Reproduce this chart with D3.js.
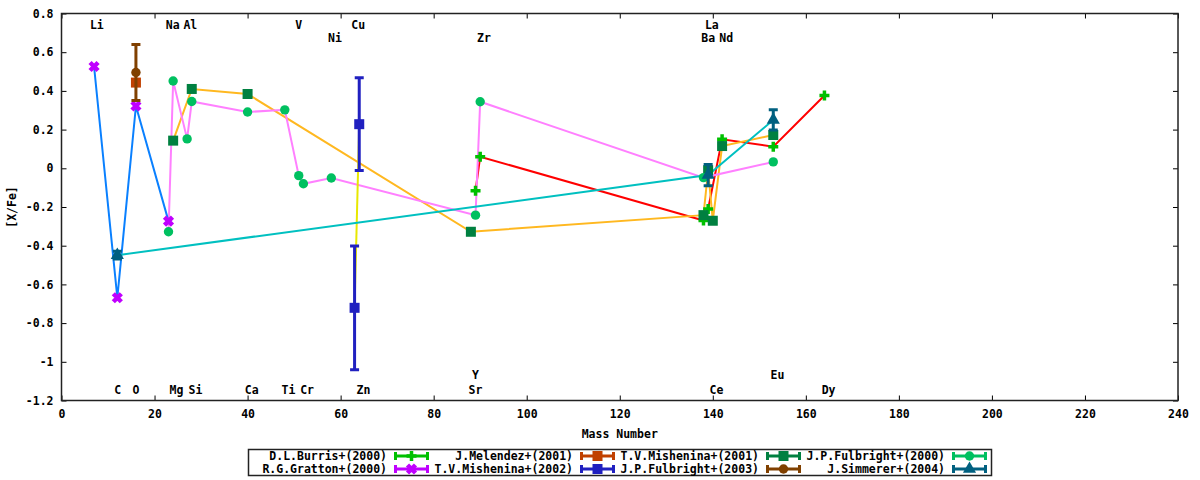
<!DOCTYPE html>
<html>
<head>
<meta charset="utf-8">
<script src="https://cdnjs.cloudflare.com/ajax/libs/d3/7.8.5/d3.min.js"></script>
<style>
body { margin: 0; background: #fff; }
text { font-family: "DejaVu Sans Mono", "Liberation Mono", monospace; font-weight: bold; font-size: 11.5px; fill: #000; }
</style>
</head>
<body>
<svg id="chart" width="1200" height="480"></svg>
<script>
// abundances [X/Fe] against mass number, one pair of arrays per paper
var burrisX = [89, 90, 138, 139, 142, 153, 164],
	burrisY = [-0.116, 0.06, -0.27, -0.21, 0.15, 0.112, 0.376];
var melendezX = [16],
	melendezY = [0.443];
var mish01X = [24, 28, 40, 88, 138, 139, 140, 142, 153],
	mish01Y = [0.143, 0.41, 0.384, -0.328, -0.242, -0.01, -0.271, 0.115, 0.172];
var fulb00X = [23, 24, 27, 28, 40, 48, 51, 52, 58, 89, 90, 138, 153],
	fulb00Y = [-0.328, 0.451, 0.152, 0.345, 0.291, 0.302, -0.038, -0.08, -0.05, -0.242, 0.344, -0.048, 0.033];
var grattonX = [7, 12, 16, 23],
	grattonY = [0.526, -0.669, 0.322, -0.273];
var mish02X = [64, 63],
	mish02Y = [0.228, -0.721],
	mish02E = [0.24, 0.32];
var fulb03X = [16],
	fulb03Y = [0.495],
	fulb03E = [0.145];
var simmX = [12, 139, 153],
	simmY = [-0.449, -0.035, 0.25],
	simmE = [0.02, 0.055, 0.052];

var xTicks = [0, 20, 40, 60, 80, 100, 120, 140, 160, 180, 200, 220, 240];
var yTicks = [0.8, 0.6, 0.4, 0.2, 0, -0.2, -0.4, -0.6, -0.8, -1, -1.2];

// element names written along the top and bottom of the frame
var elemNames = ["Li", "Na", "Al", "V", "Cu", "La", "Ni", "Zr", "Ba", "Nd", "Y", "Eu",
	"C", "O", "Mg", "Si", "Ca", "Ti", "Cr", "Zn", "Sr", "Ce", "Dy"];
var elemX = [7.6, 23.9, 27.7, 51.0, 63.8, 139.8, 58.8, 90.8, 139.0, 142.9, 89.0, 153.9,
	12.1, 16.0, 24.7, 28.8, 40.9, 48.8, 52.8, 64.9, 89.0, 140.8, 164.9];
var elemRow = [0, 0, 0, 0, 0, 0, 1, 1, 1, 1, 2, 2,
	3, 3, 3, 3, 3, 3, 3, 3, 3, 3, 3];
var rowY = [0.742, 0.673, -1.069, -1.145];

var series = [
	{ name: "D.L.Burris+(2000)", xs: burrisX, ys: burrisY, color: "#00c000", line: "#ff0000", shape: "plus" },
	{ name: "J.Melendez+(2001)", xs: melendezX, ys: melendezY, color: "#c04000", line: null, shape: "square" },
	{ name: "T.V.Mishenina+(2001)", xs: mish01X, ys: mish01Y, color: "#008040", line: "#ffb820", shape: "square" },
	{ name: "J.P.Fulbright+(2000)", xs: fulb00X, ys: fulb00Y, color: "#00c060", line: "#ff80ff", shape: "circle" },
	{ name: "R.G.Gratton+(2000)", xs: grattonX, ys: grattonY, color: "#c000ff", line: "#0a80ff", shape: "cross" },
	{ name: "T.V.Mishenina+(2002)", xs: mish02X, ys: mish02Y, es: mish02E, color: "#2020c0", line: "#e8e800", shape: "square" },
	{ name: "J.P.Fulbright+(2003)", xs: fulb03X, ys: fulb03Y, es: fulb03E, color: "#804000", line: null, shape: "circle" },
	{ name: "J.Simmerer+(2004)", xs: simmX, ys: simmY, es: simmE, color: "#006080", line: "#00c0c0", shape: "triangle" }
];

var svg = d3.select("#chart");
var pLeft = 61.5, pRight = 1178, pTop = 13.5, pBottom = 400.5;

var x = d3.scaleLinear().domain([0, 240]).range([pLeft, pRight]);
var y = d3.scaleLinear().domain([-1.2, 0.8]).range([pBottom, pTop]);

function fmt(d) { return d === 0 ? "0" : String(+d.toFixed(1)); }

// axes, ticks point inward and are mirrored
svg.append("g").attr("transform", "translate(0," + pBottom + ")")
	.call(d3.axisBottom(x).tickValues(xTicks).tickSize(-5).tickPadding(9).tickFormat(fmt));
svg.append("g").attr("transform", "translate(0," + pTop + ")")
	.call(d3.axisTop(x).tickValues(xTicks).tickSize(-5).tickFormat(""));
svg.append("g").attr("transform", "translate(" + pLeft + ",0)")
	.call(d3.axisLeft(y).tickValues(yTicks).tickSize(-5).tickPadding(8).tickFormat(fmt));
svg.append("g").attr("transform", "translate(" + pRight + ",0)")
	.call(d3.axisRight(y).tickValues(yTicks).tickSize(-5).tickFormat(""));
svg.selectAll(".domain").remove();
svg.selectAll(".tick line").attr("stroke", "#000");
svg.selectAll(".tick text").attr("font-family", null).attr("font-size", null).attr("fill", "#000");

svg.append("rect")
	.attr("x", pLeft).attr("y", pTop)
	.attr("width", pRight - pLeft).attr("height", pBottom - pTop)
	.attr("fill", "none").attr("stroke", "#222").attr("stroke-width", 1.5);

svg.append("text").attr("x", (pLeft + pRight) / 2).attr("y", 438)
	.attr("text-anchor", "middle").text("Mass Number");
svg.append("text").attr("transform", "translate(16," + (pTop + pBottom) / 2 + ") rotate(-90)")
	.attr("text-anchor", "middle").text("[X/Fe]");

// element labels
svg.append("g").selectAll("text")
	.data(elemNames)
	.enter()
	.append("text")
	.attr("x", function(d, i) { return x(elemX[i]); })
	.attr("y", function(d, i) { return y(rowY[elemRow[i]]); })
	.attr("dy", "0.35em")
	.attr("text-anchor", "middle")
	.text(function(d) { return d; });

function marker(g, shape, color) {
	if (shape === "plus") {
		g.append("path").attr("d", "M-5,0H5M0,-5V5").attr("stroke", color).attr("stroke-width", 3.5);
	} else if (shape === "square") {
		g.append("rect").attr("x", -5).attr("y", -5).attr("width", 10).attr("height", 10).attr("fill", color);
	} else if (shape === "circle") {
		g.append("circle").attr("r", 4.7).attr("fill", color);
	} else if (shape === "cross") {
		g.append("path").attr("d", "M-4,-4L4,4M4,-4L-4,4").attr("stroke", color).attr("stroke-width", 4.5);
	} else if (shape === "triangle") {
		g.append("path").attr("d", d3.symbol(d3.symbolTriangle, 75)()).attr("fill", color);
	}
}

var line = d3.line()
	.x(function(d) { return x(d[0]); })
	.y(function(d) { return y(d[1]); });

// connecting lines first, marks on top
series.forEach(function(s) {
	if (!s.line) return;
	svg.append("path")
		.datum(s.xs.map(function(v, i) { return [v, s.ys[i]]; }))
		.attr("d", line)
		.attr("fill", "none")
		.attr("stroke", s.line)
		.attr("stroke-width", 2);
});

series.forEach(function(s) {
	var pts = svg.append("g").selectAll("g")
		.data(s.xs.map(function(v, i) { return { x: v, y: s.ys[i], e: s.es ? s.es[i] : 0 }; }))
		.enter()
		.append("g");
	if (s.es) {
		pts.append("path")
			.attr("d", function(d) {
				var cx = x(d.x), y1 = y(d.y + d.e), y2 = y(d.y - d.e);
				return "M" + cx + "," + y1 + "V" + y2 +
					"M" + (cx - 4.5) + "," + y1 + "H" + (cx + 4.5) +
					"M" + (cx - 4.5) + "," + y2 + "H" + (cx + 4.5);
			})
			.attr("stroke", s.color)
			.attr("stroke-width", 3)
			.attr("fill", "none");
	}
	pts.each(function(d) {
		var g = d3.select(this).append("g")
			.attr("transform", "translate(" + x(d.x) + "," + y(d.y) + ")");
		marker(g, s.shape, s.color);
	});
});

// legend, two rows of four
var key = svg.append("g");
key.append("rect")
	.attr("x", 248.5).attr("y", 449.5).attr("width", 743).attr("height", 26)
	.attr("fill", "#fff").attr("stroke", "#222").attr("stroke-width", 1.5);
var items = key.selectAll("g.item")
	.data(series)
	.enter()
	.append("g")
	.attr("class", "item")
	.attr("transform", function(d, i) {
		return "translate(" + (387 + (i % 4) * 186) + "," + (456 + Math.floor(i / 4) * 13) + ")";
	});
items.append("text")
	.attr("text-anchor", "end")
	.attr("dy", "0.35em")
	.text(function(d) { return d.name; });
items.append("path")
	.attr("d", "M7,0H42M8.5,-4V4M40.5,-4V4")
	.attr("stroke", function(d) { return d.color; })
	.attr("stroke-width", 3)
	.attr("fill", "none");
items.each(function(d) {
	marker(d3.select(this).append("g").attr("transform", "translate(24.5,0)"), d.shape, d.color);
});
</script>
</body>
</html>
